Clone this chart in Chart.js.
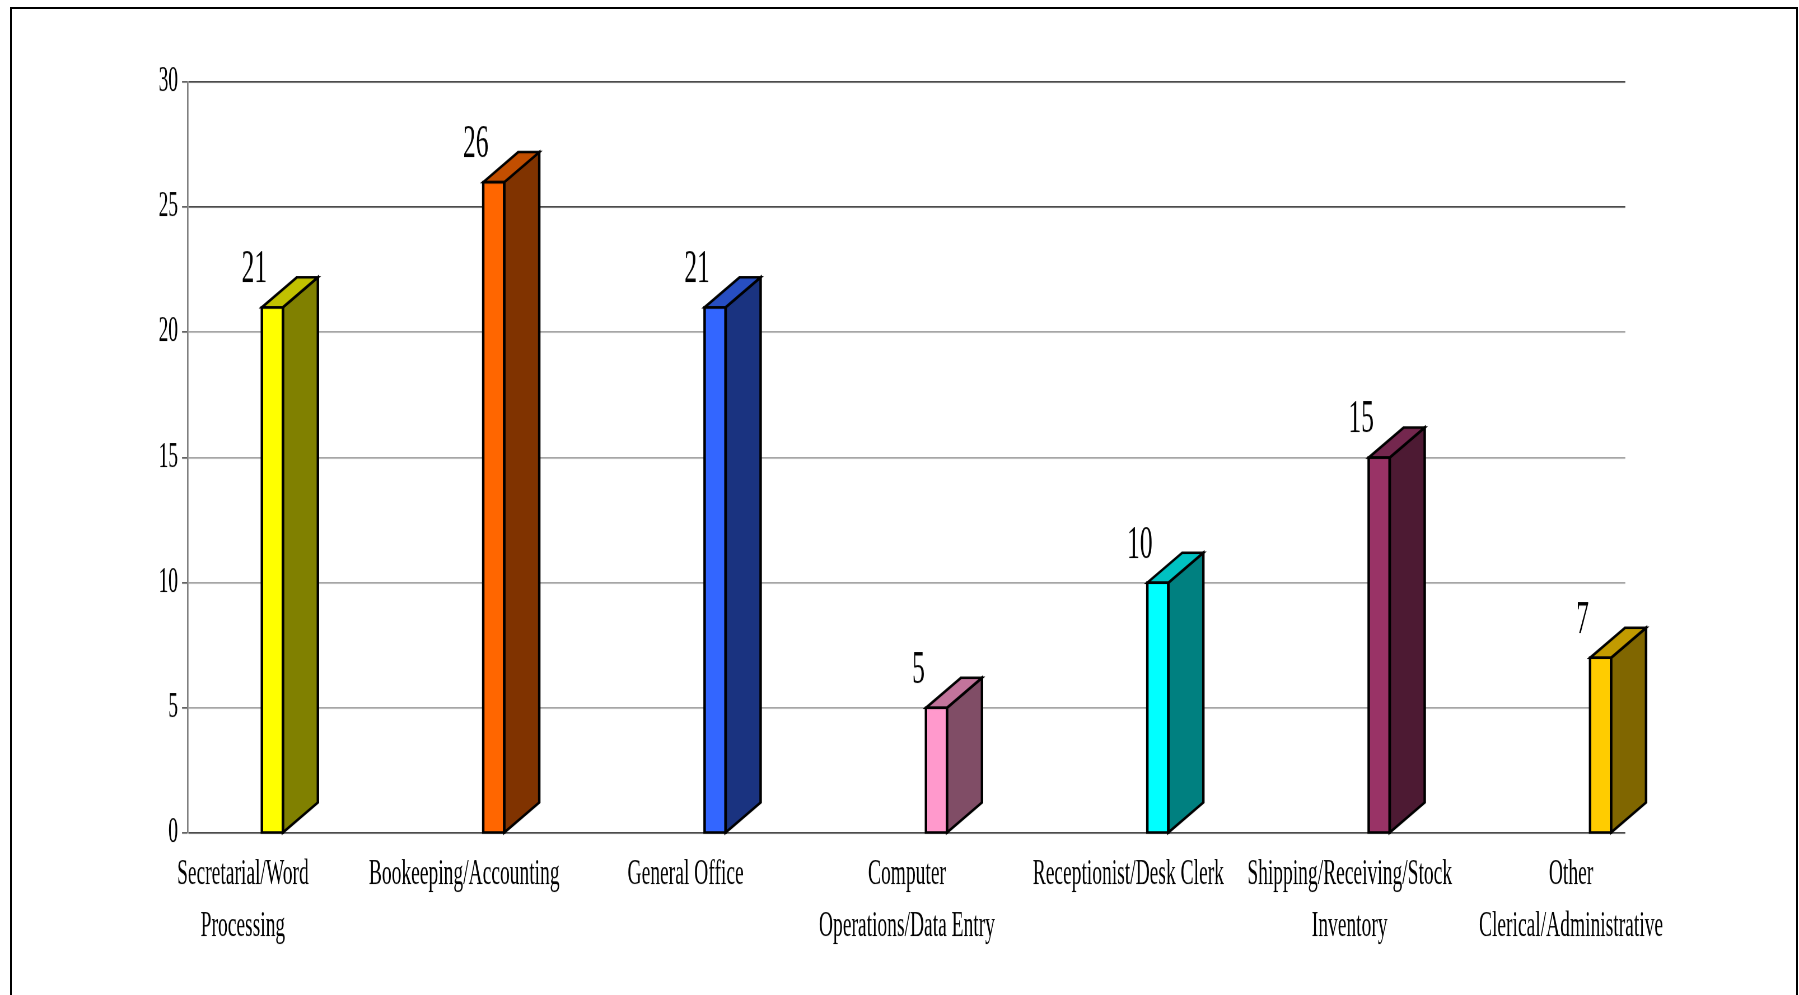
<!DOCTYPE html>
<html>
<head>
<meta charset="utf-8">
<script src="https://cdn.jsdelivr.net/npm/chart.js@4/dist/chart.umd.min.js"></script>
<style>
  html, body { margin: 0; padding: 0; background: #fff; width: 1799px; height: 995px; overflow: hidden; }
  #frame {
    position: absolute; left: 10px; top: 7px; width: 1788px; height: 1100px;
    border: 2px solid #000; box-sizing: border-box;
  }
  /* The chart is laid out at a squat height and stretched vertically,
     giving the tall, narrow lettering of the printed figure. */
  #wrap {
    position: absolute; left: 0; top: 0; width: 1799px; height: 557px;
    transform-origin: 0 0; transform: scaleY(1.78636);
  }
</style>
</head>
<body>
<div id="frame"></div>
<div id="wrap"><canvas id="chart" width="1799" height="557"></canvas></div>
<script>
// Clerical job categories and counts
const categories = [
  ['Secretarial/Word', 'Processing'],
  ['Bookeeping/Accounting'],
  ['General Office'],
  ['Computer', 'Operations/Data Entry'],
  ['Receptionist/Desk Clerk'],
  ['Shipping/Receiving/Stock', 'Inventory'],
  ['Other', 'Clerical/Administrative']
];
const values = [21, 26, 21, 5, 10, 15, 7];
const yTicks = [0, 5, 10, 15, 20, 25, 30];

// Front-face colours; side and top faces are darker shades of these
const frontColors = ['#FFFF00', '#FF6600', '#3366FF', '#FF99CC', '#00FFFF', '#993366', '#FFCC00'];

const STRETCH = 995 / 557;          // vertical stretch applied by CSS
const DEPTH_X = 35, DEPTH_Y = 30;   // 3-D extrusion in screen pixels
const FONT = "'Liberation Serif', 'Times New Roman', serif";

function shade(hex, f) {
  const n = parseInt(hex.slice(1), 16);
  const r = Math.round(((n >> 16) & 255) * f);
  const g = Math.round(((n >> 8) & 255) * f);
  const b = Math.round((n & 255) * f);
  return `rgb(${r},${g},${b})`;
}

// Draws the side and top of each column plus the value above it
const extrude = {
  id: 'extrude',
  afterDatasetsDraw(chart) {
    const ctx = chart.ctx;
    const meta = chart.getDatasetMeta(0);
    meta.data.forEach((el, i) => {
      const xL = el.x - el.width / 2;
      const xR = el.x + el.width / 2;
      ctx.save();
      ctx.scale(1, 1 / STRETCH);   // work in on-screen pixels so strokes stay even
      const yT = el.y * STRETCH;
      const yB = el.base * STRETCH;
      ctx.lineWidth = 2.5;
      ctx.lineJoin = 'miter';
      ctx.strokeStyle = '#000';
      // side face
      ctx.beginPath();
      ctx.moveTo(xR, yT);
      ctx.lineTo(xR + DEPTH_X, yT - DEPTH_Y);
      ctx.lineTo(xR + DEPTH_X, yB - DEPTH_Y);
      ctx.lineTo(xR, yB);
      ctx.closePath();
      ctx.fillStyle = shade(frontColors[i], 0.5);
      ctx.fill();
      ctx.stroke();
      // top face
      ctx.beginPath();
      ctx.moveTo(xL, yT);
      ctx.lineTo(xL + DEPTH_X, yT - DEPTH_Y);
      ctx.lineTo(xR + DEPTH_X, yT - DEPTH_Y);
      ctx.lineTo(xR, yT);
      ctx.closePath();
      ctx.fillStyle = shade(frontColors[i], 0.76);
      ctx.fill();
      ctx.stroke();
      // front outline
      ctx.strokeRect(xL, yT, xR - xL, yB - yT);
      ctx.restore();

      // value label
      ctx.save();
      ctx.font = `25.5px ${FONT}`;
      ctx.fillStyle = '#000';
      ctx.textAlign = 'center';
      ctx.textBaseline = 'alphabetic';
      ctx.fillText(String(values[i]), el.x - 18, el.y - 25 / STRETCH);
      ctx.restore();
    });
  }
};

new Chart(document.getElementById('chart'), {
  type: 'bar',
  data: {
    datasets: [{
      data: values.map((v, i) => ({ x: i, y: v })),
      backgroundColor: frontColors,
      borderColor: '#000',
      borderWidth: 0,
      borderSkipped: false,
      barThickness: 21
    }]
  },
  options: {
    responsive: false,
    animation: false,
    devicePixelRatio: STRETCH,
    layout: { padding: { top: 45.9, right: 174, bottom: 0, left: 0 } },
    plugins: { legend: { display: false }, tooltip: { enabled: false } },
    scales: {
      x: {
        type: 'linear',
        offset: false,
        min: -0.381,
        max: 6.112,
        grid: { display: false, drawTicks: false },
        border: { display: false },
        afterBuildTicks: (s) => { s.ticks = categories.map((_, i) => ({ value: i })); },
        afterFit: (s) => { s.height = 90.7; },
        ticks: {
          autoSkip: false,
          maxRotation: 0,
          minRotation: 0,
          padding: 8.5,
          labelOffset: -29.5,
          color: '#000',
          font: { family: FONT, size: 19.5, lineHeight: 1.51 },
          callback: (v, idx) => categories[idx]
        }
      },
      y: {
        min: 0,
        max: 30,
        afterBuildTicks: (s) => { s.ticks = yTicks.map(v => ({ value: v })); },
        afterFit: (s) => { s.width = 188; },
        ticks: {
          padding: 4,
          color: '#000',
          font: { family: FONT, size: 19.5 }
        },
        grid: {
          color: (c) => (c.tick && (c.tick.value === 0 || c.tick.value >= 25)) ? '#000' : '#808080',
          lineWidth: 1.1 / STRETCH,
          tickLength: 6,
          tickColor: '#000',
          tickWidth: 1.1 / STRETCH
        },
        border: { color: '#808080', width: 1.5 }
      }
    }
  },
  plugins: [extrude]
});
</script>
</body>
</html>
